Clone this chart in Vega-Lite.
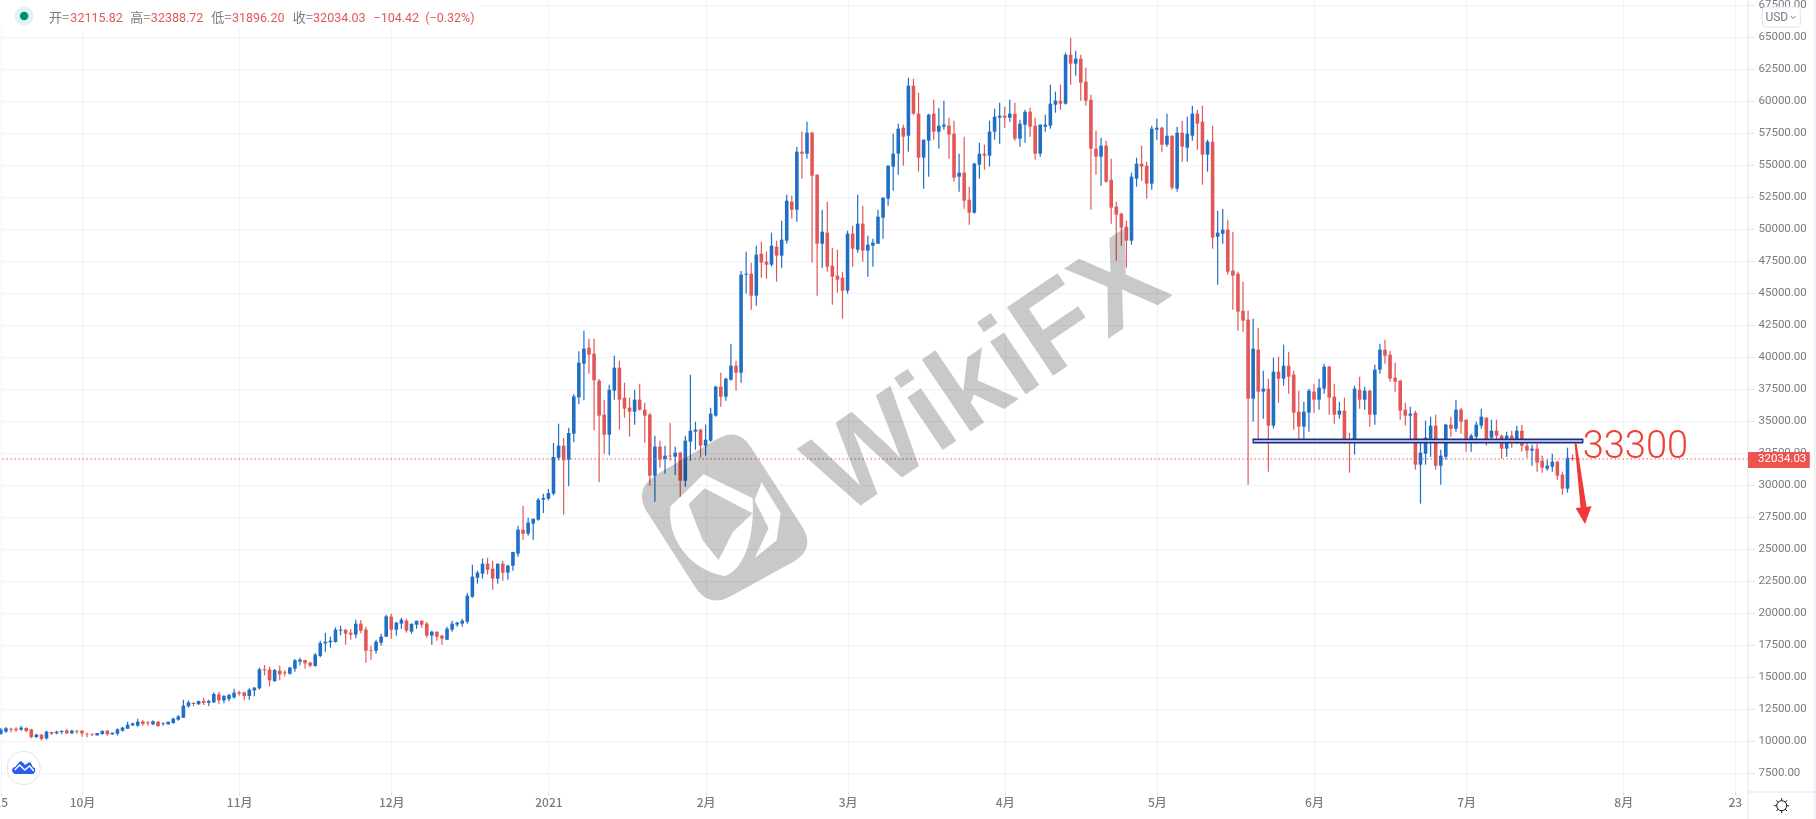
{"$schema":"https://vega.github.io/schema/vega-lite/v6.json","width":1748,"height":792,"autosize":{"type":"none"},"padding":{"left":0,"top":0,"right":68,"bottom":27},"background":"#ffffff","config":{"view":{"stroke":null}},
"datasets":{"ohlc":[
{"date":"2020-09-15","open":10573,"high":11016,"low":10495,"close":10885},
{"date":"2020-09-16","open":10729,"high":11094,"low":10651,"close":10990},
{"date":"2020-09-17","open":10963,"high":11042,"low":10677,"close":10885},
{"date":"2020-09-18","open":10963,"high":11068,"low":10729,"close":10833},
{"date":"2020-09-19","open":10885,"high":11198,"low":10807,"close":11042},
{"date":"2020-09-20","open":11016,"high":11068,"low":10677,"close":10781},
{"date":"2020-09-21","open":10911,"high":10963,"low":10208,"close":10312},
{"date":"2020-09-22","open":10312,"high":10573,"low":10234,"close":10495},
{"date":"2020-09-23","open":10495,"high":10547,"low":10026,"close":10156},
{"date":"2020-09-24","open":10208,"high":10807,"low":10104,"close":10729},
{"date":"2020-09-25","open":10703,"high":10729,"low":10469,"close":10573},
{"date":"2020-09-26","open":10599,"high":10807,"low":10521,"close":10729},
{"date":"2020-09-27","open":10703,"high":10833,"low":10521,"close":10781},
{"date":"2020-09-28","open":10833,"high":10963,"low":10547,"close":10599},
{"date":"2020-09-29","open":10599,"high":10885,"low":10547,"close":10807},
{"date":"2020-09-30","open":10807,"high":10833,"low":10573,"close":10729},
{"date":"2020-10-01","open":10807,"high":10859,"low":10339,"close":10599},
{"date":"2020-10-02","open":10573,"high":10651,"low":10286,"close":10521},
{"date":"2020-10-03","open":10547,"high":10599,"low":10391,"close":10495},
{"date":"2020-10-04","open":10443,"high":10625,"low":10417,"close":10625},
{"date":"2020-10-05","open":10547,"high":10833,"low":10495,"close":10781},
{"date":"2020-10-06","open":10807,"high":10833,"low":10417,"close":10521},
{"date":"2020-10-07","open":10521,"high":10651,"low":10495,"close":10651},
{"date":"2020-10-08","open":10573,"high":10990,"low":10417,"close":10911},
{"date":"2020-10-09","open":10807,"high":11120,"low":10729,"close":11042},
{"date":"2020-10-10","open":10963,"high":11510,"low":10937,"close":11276},
{"date":"2020-10-11","open":11224,"high":11432,"low":11172,"close":11380},
{"date":"2020-10-12","open":11198,"high":11745,"low":11120,"close":11510},
{"date":"2020-10-13","open":11536,"high":11614,"low":11198,"close":11328},
{"date":"2020-10-14","open":11458,"high":11562,"low":11198,"close":11380},
{"date":"2020-10-15","open":11302,"high":11614,"low":11224,"close":11536},
{"date":"2020-10-16","open":11510,"high":11562,"low":11094,"close":11172},
{"date":"2020-10-17","open":11328,"high":11458,"low":11198,"close":11380},
{"date":"2020-10-18","open":11302,"high":11510,"low":11276,"close":11510},
{"date":"2020-10-19","open":11406,"high":11823,"low":11354,"close":11745},
{"date":"2020-10-20","open":11667,"high":12005,"low":11588,"close":11927},
{"date":"2020-10-21","open":11823,"high":13229,"low":11797,"close":12760},
{"date":"2020-10-22","open":12708,"high":13177,"low":12604,"close":13021},
{"date":"2020-10-23","open":12995,"high":12995,"low":12708,"close":12890},
{"date":"2020-10-24","open":12864,"high":13151,"low":12838,"close":13125},
{"date":"2020-10-25","open":13125,"high":13385,"low":12812,"close":12969},
{"date":"2020-10-26","open":12995,"high":13229,"low":12734,"close":13125},
{"date":"2020-10-27","open":13021,"high":13802,"low":12969,"close":13672},
{"date":"2020-10-28","open":13646,"high":13854,"low":12864,"close":13177},
{"date":"2020-10-29","open":13177,"high":13594,"low":12943,"close":13515},
{"date":"2020-10-30","open":13281,"high":13698,"low":13099,"close":13594},
{"date":"2020-10-31","open":13411,"high":14088,"low":13307,"close":13776},
{"date":"2020-11-01","open":13802,"high":13932,"low":13541,"close":13698},
{"date":"2020-11-02","open":13802,"high":13854,"low":13177,"close":13515},
{"date":"2020-11-03","open":13515,"high":14114,"low":13229,"close":14010},
{"date":"2020-11-04","open":13958,"high":14218,"low":13489,"close":14166},
{"date":"2020-11-05","open":14114,"high":15729,"low":14010,"close":15599},
{"date":"2020-11-06","open":15599,"high":15937,"low":15130,"close":15520},
{"date":"2020-11-07","open":15573,"high":15807,"low":14271,"close":14739},
{"date":"2020-11-08","open":14687,"high":15625,"low":14609,"close":15547},
{"date":"2020-11-09","open":15494,"high":15885,"low":14739,"close":15208},
{"date":"2020-11-10","open":15364,"high":15520,"low":15052,"close":15286},
{"date":"2020-11-11","open":15260,"high":15807,"low":15182,"close":15729},
{"date":"2020-11-12","open":15651,"high":16406,"low":15417,"close":16302},
{"date":"2020-11-13","open":16198,"high":16510,"low":15911,"close":16354},
{"date":"2020-11-14","open":16328,"high":16354,"low":15651,"close":16068},
{"date":"2020-11-15","open":16120,"high":16198,"low":15755,"close":15885},
{"date":"2020-11-16","open":15859,"high":16875,"low":15807,"close":16745},
{"date":"2020-11-17","open":16641,"high":17838,"low":16536,"close":17656},
{"date":"2020-11-18","open":17630,"high":18437,"low":16979,"close":17760},
{"date":"2020-11-19","open":17708,"high":18151,"low":17292,"close":17838},
{"date":"2020-11-20","open":17734,"high":18880,"low":17682,"close":18698},
{"date":"2020-11-21","open":18620,"high":19010,"low":18255,"close":18698},
{"date":"2020-11-22","open":18698,"high":18750,"low":17526,"close":18385},
{"date":"2020-11-23","open":18463,"high":18750,"low":17916,"close":18307},
{"date":"2020-11-24","open":18307,"high":19479,"low":18021,"close":19166},
{"date":"2020-11-25","open":19166,"high":19453,"low":18411,"close":18620},
{"date":"2020-11-26","open":18698,"high":18932,"low":16120,"close":17057},
{"date":"2020-11-27","open":17109,"high":17448,"low":16354,"close":17057},
{"date":"2020-11-28","open":17057,"high":17916,"low":16823,"close":17760},
{"date":"2020-11-29","open":17682,"high":18385,"low":17448,"close":18151},
{"date":"2020-11-30","open":18151,"high":19869,"low":18130,"close":19739},
{"date":"2020-12-01","open":19713,"high":19948,"low":17995,"close":18698},
{"date":"2020-12-02","open":18698,"high":19323,"low":18229,"close":19245},
{"date":"2020-12-03","open":19166,"high":19635,"low":18776,"close":19479},
{"date":"2020-12-04","open":19401,"high":19557,"low":18463,"close":18620},
{"date":"2020-12-05","open":18541,"high":19166,"low":18385,"close":19166},
{"date":"2020-12-06","open":19088,"high":19401,"low":18776,"close":19401},
{"date":"2020-12-07","open":19401,"high":19420,"low":18854,"close":19088},
{"date":"2020-12-08","open":19166,"high":19323,"low":18073,"close":18229},
{"date":"2020-12-09","open":18229,"high":18620,"low":17526,"close":18541},
{"date":"2020-12-10","open":18541,"high":18560,"low":17838,"close":18151},
{"date":"2020-12-11","open":18229,"high":18307,"low":17526,"close":17995},
{"date":"2020-12-12","open":17916,"high":18932,"low":17890,"close":18776},
{"date":"2020-12-13","open":18698,"high":19401,"low":18541,"close":19166},
{"date":"2020-12-14","open":19088,"high":19323,"low":18932,"close":19245},
{"date":"2020-12-15","open":19166,"high":19557,"low":18932,"close":19401},
{"date":"2020-12-16","open":19323,"high":21588,"low":19166,"close":21354},
{"date":"2020-12-17","open":21276,"high":23775,"low":21198,"close":22838},
{"date":"2020-12-18","open":22760,"high":23307,"low":22291,"close":23151},
{"date":"2020-12-19","open":23072,"high":24244,"low":22682,"close":23854},
{"date":"2020-12-20","open":23854,"high":24322,"low":22994,"close":23385},
{"date":"2020-12-21","open":23463,"high":24088,"low":21822,"close":22682},
{"date":"2020-12-22","open":22682,"high":23870,"low":22291,"close":23854},
{"date":"2020-12-23","open":23854,"high":24088,"low":22526,"close":23151},
{"date":"2020-12-24","open":23151,"high":23775,"low":22604,"close":23698},
{"date":"2020-12-25","open":23698,"high":24791,"low":23307,"close":24765},
{"date":"2020-12-26","open":24635,"high":26822,"low":24400,"close":26510},
{"date":"2020-12-27","open":26510,"high":28385,"low":25728,"close":26197},
{"date":"2020-12-28","open":26197,"high":27447,"low":26041,"close":27057},
{"date":"2020-12-29","open":26978,"high":27370,"low":25728,"close":27369},
{"date":"2020-12-30","open":27291,"high":28984,"low":27200,"close":28854},
{"date":"2020-12-31","open":28854,"high":29323,"low":27813,"close":28984},
{"date":"2021-01-01","open":28932,"high":29688,"low":28800,"close":29375},
{"date":"2021-01-02","open":29323,"high":33281,"low":29200,"close":32187},
{"date":"2021-01-03","open":32135,"high":34791,"low":31927,"close":33073},
{"date":"2021-01-04","open":33073,"high":33672,"low":27682,"close":31927},
{"date":"2021-01-05","open":31979,"high":34479,"low":29896,"close":34062},
{"date":"2021-01-06","open":34010,"high":37083,"low":33333,"close":36927},
{"date":"2021-01-07","open":36849,"high":40442,"low":36302,"close":39557},
{"date":"2021-01-08","open":39479,"high":42057,"low":36614,"close":40650},
{"date":"2021-01-09","open":40729,"high":41432,"low":38697,"close":40182},
{"date":"2021-01-10","open":40260,"high":41432,"low":34271,"close":38177},
{"date":"2021-01-11","open":38150,"high":38281,"low":30208,"close":35416},
{"date":"2021-01-12","open":35494,"high":36666,"low":32448,"close":33932},
{"date":"2021-01-13","open":33932,"high":37838,"low":32318,"close":37447},
{"date":"2021-01-14","open":37369,"high":40104,"low":36666,"close":39166},
{"date":"2021-01-15","open":39166,"high":39713,"low":34323,"close":36666},
{"date":"2021-01-16","open":36822,"high":37994,"low":35260,"close":35963},
{"date":"2021-01-17","open":36041,"high":36822,"low":33776,"close":35729},
{"date":"2021-01-18","open":35729,"high":37447,"low":34713,"close":36666},
{"date":"2021-01-19","open":36666,"high":37916,"low":35807,"close":35885},
{"date":"2021-01-20","open":35885,"high":36432,"low":33307,"close":35416},
{"date":"2021-01-21","open":35494,"high":35651,"low":29948,"close":30729},
{"date":"2021-01-22","open":30729,"high":33854,"low":28698,"close":32995},
{"date":"2021-01-23","open":32995,"high":33463,"low":31354,"close":31979},
{"date":"2021-01-24","open":32031,"high":33073,"low":30885,"close":32291},
{"date":"2021-01-25","open":32291,"high":34870,"low":31900,"close":32239},
{"date":"2021-01-26","open":32213,"high":32995,"low":30781,"close":32526},
{"date":"2021-01-27","open":32526,"high":32604,"low":29089,"close":30338},
{"date":"2021-01-28","open":30338,"high":33854,"low":29870,"close":33463},
{"date":"2021-01-29","open":33385,"high":38619,"low":31900,"close":34244},
{"date":"2021-01-30","open":34166,"high":34947,"low":32760,"close":34323},
{"date":"2021-01-31","open":34323,"high":34401,"low":32135,"close":33073},
{"date":"2021-02-01","open":33073,"high":34713,"low":32291,"close":33541},
{"date":"2021-02-02","open":33463,"high":36041,"low":33385,"close":35573},
{"date":"2021-02-03","open":35416,"high":37760,"low":35338,"close":37682},
{"date":"2021-02-04","open":37682,"high":38775,"low":36119,"close":36900},
{"date":"2021-02-05","open":36900,"high":38385,"low":36588,"close":38307},
{"date":"2021-02-06","open":38229,"high":41041,"low":38150,"close":39322},
{"date":"2021-02-07","open":39322,"high":39713,"low":37369,"close":38775},
{"date":"2021-02-08","open":38775,"high":46719,"low":37994,"close":46430},
{"date":"2021-02-09","open":46432,"high":48229,"low":44948,"close":46510},
{"date":"2021-02-10","open":46510,"high":47370,"low":43698,"close":44792},
{"date":"2021-02-11","open":44792,"high":48698,"low":44010,"close":47995},
{"date":"2021-02-12","open":48073,"high":49010,"low":46198,"close":47370},
{"date":"2021-02-13","open":47448,"high":48229,"low":46120,"close":47213},
{"date":"2021-02-14","open":47213,"high":49713,"low":47057,"close":48698},
{"date":"2021-02-15","open":48620,"high":49088,"low":45885,"close":47916},
{"date":"2021-02-16","open":47916,"high":50651,"low":46979,"close":49166},
{"date":"2021-02-17","open":49088,"high":52682,"low":48854,"close":52213},
{"date":"2021-02-18","open":52135,"high":52604,"low":50807,"close":51510},
{"date":"2021-02-19","open":51510,"high":56432,"low":50572,"close":56041},
{"date":"2021-02-20","open":56041,"high":57604,"low":53932,"close":55885},
{"date":"2021-02-21","open":55885,"high":58385,"low":55494,"close":57525},
{"date":"2021-02-22","open":57525,"high":57604,"low":47370,"close":54166},
{"date":"2021-02-23","open":54244,"high":54260,"low":44792,"close":48854},
{"date":"2021-02-24","open":48854,"high":51510,"low":46979,"close":49791},
{"date":"2021-02-25","open":49713,"high":52135,"low":46666,"close":47057},
{"date":"2021-02-26","open":47135,"high":48541,"low":44089,"close":46276},
{"date":"2021-02-27","open":46354,"high":48385,"low":45026,"close":46041},
{"date":"2021-02-28","open":46198,"high":46666,"low":42995,"close":45182},
{"date":"2021-03-01","open":45182,"high":49869,"low":44948,"close":49635},
{"date":"2021-03-02","open":49635,"high":50260,"low":47057,"close":48463},
{"date":"2021-03-03","open":48385,"high":52682,"low":48151,"close":50416},
{"date":"2021-03-04","open":50416,"high":51822,"low":47448,"close":48307},
{"date":"2021-03-05","open":48307,"high":49479,"low":46276,"close":48776},
{"date":"2021-03-06","open":48698,"high":49244,"low":47057,"close":48932},
{"date":"2021-03-07","open":48854,"high":51510,"low":48830,"close":50963},
{"date":"2021-03-08","open":50885,"high":52470,"low":49244,"close":52448},
{"date":"2021-03-09","open":52369,"high":54970,"low":51822,"close":54947},
{"date":"2021-03-10","open":54869,"high":57447,"low":52994,"close":55885},
{"date":"2021-03-11","open":55885,"high":58229,"low":54244,"close":57838},
{"date":"2021-03-12","open":57916,"high":58151,"low":54948,"close":57213},
{"date":"2021-03-13","open":57291,"high":61822,"low":56041,"close":61197},
{"date":"2021-03-14","open":61197,"high":61744,"low":58932,"close":59010},
{"date":"2021-03-15","open":59010,"high":60650,"low":54479,"close":55573},
{"date":"2021-03-16","open":55573,"high":57000,"low":53151,"close":56979},
{"date":"2021-03-17","open":56901,"high":59010,"low":54088,"close":58932},
{"date":"2021-03-18","open":59010,"high":60104,"low":56979,"close":57604},
{"date":"2021-03-19","open":57604,"high":59479,"low":56276,"close":58072},
{"date":"2021-03-20","open":57994,"high":60026,"low":57760,"close":58151},
{"date":"2021-03-21","open":58072,"high":58697,"low":55494,"close":57369},
{"date":"2021-03-22","open":57447,"high":58463,"low":53698,"close":54010},
{"date":"2021-03-23","open":54088,"high":55885,"low":52916,"close":54400},
{"date":"2021-03-24","open":54400,"high":57213,"low":51588,"close":52213},
{"date":"2021-03-25","open":52291,"high":53307,"low":50338,"close":51276},
{"date":"2021-03-26","open":51276,"high":55182,"low":51198,"close":55104},
{"date":"2021-03-27","open":55026,"high":56744,"low":53932,"close":55885},
{"date":"2021-03-28","open":55885,"high":56588,"low":54635,"close":55729},
{"date":"2021-03-29","open":55729,"high":58463,"low":54869,"close":57604},
{"date":"2021-03-30","open":57604,"high":59400,"low":56979,"close":58775},
{"date":"2021-03-31","open":58697,"high":59869,"low":56666,"close":58854},
{"date":"2021-04-01","open":58854,"high":59557,"low":57916,"close":58697},
{"date":"2021-04-02","open":58697,"high":60104,"low":58385,"close":59010},
{"date":"2021-04-03","open":59010,"high":59869,"low":56901,"close":57057},
{"date":"2021-04-04","open":57057,"high":58541,"low":56432,"close":58229},
{"date":"2021-04-05","open":58151,"high":59322,"low":56744,"close":59166},
{"date":"2021-04-06","open":59166,"high":59479,"low":57213,"close":57994},
{"date":"2021-04-07","open":58072,"high":58697,"low":55416,"close":55885},
{"date":"2021-04-08","open":55885,"high":58170,"low":55651,"close":58151},
{"date":"2021-04-09","open":57994,"high":58932,"low":57604,"close":58151},
{"date":"2021-04-10","open":58072,"high":61275,"low":57838,"close":59791},
{"date":"2021-04-11","open":59713,"high":60728,"low":59088,"close":60026},
{"date":"2021-04-12","open":60026,"high":61275,"low":59322,"close":59791},
{"date":"2021-04-13","open":59791,"high":63775,"low":59713,"close":63619},
{"date":"2021-04-14","open":63619,"high":64947,"low":61275,"close":62916},
{"date":"2021-04-15","open":62916,"high":63931,"low":61978,"close":63306},
{"date":"2021-04-16","open":63306,"high":63619,"low":60026,"close":61432},
{"date":"2021-04-17","open":61510,"high":62604,"low":59635,"close":60026},
{"date":"2021-04-18","open":60104,"high":60494,"low":51510,"close":56276},
{"date":"2021-04-19","open":56276,"high":57682,"low":54244,"close":55651},
{"date":"2021-04-20","open":55651,"high":57135,"low":53385,"close":56510},
{"date":"2021-04-21","open":56510,"high":56901,"low":53620,"close":53698},
{"date":"2021-04-22","open":53854,"high":55494,"low":50416,"close":51666},
{"date":"2021-04-23","open":51745,"high":52135,"low":47526,"close":51120},
{"date":"2021-04-24","open":51198,"high":51276,"low":48698,"close":50104},
{"date":"2021-04-25","open":50182,"high":50651,"low":46979,"close":49088},
{"date":"2021-04-26","open":49088,"high":54400,"low":48776,"close":54088},
{"date":"2021-04-27","open":53932,"high":55573,"low":53307,"close":55104},
{"date":"2021-04-28","open":55104,"high":56510,"low":53776,"close":54869},
{"date":"2021-04-29","open":54948,"high":55260,"low":52370,"close":53541},
{"date":"2021-04-30","open":53541,"high":58072,"low":53073,"close":57838},
{"date":"2021-05-01","open":57760,"high":58619,"low":56979,"close":57916},
{"date":"2021-05-02","open":57916,"high":57994,"low":56041,"close":56588},
{"date":"2021-05-03","open":56588,"high":59010,"low":56432,"close":57291},
{"date":"2021-05-04","open":57291,"high":57310,"low":53073,"close":53229},
{"date":"2021-05-05","open":53151,"high":57994,"low":52916,"close":57526},
{"date":"2021-05-06","open":57526,"high":58463,"low":55260,"close":56432},
{"date":"2021-05-07","open":56354,"high":58775,"low":55260,"close":57447},
{"date":"2021-05-08","open":57291,"high":59635,"low":56901,"close":59010},
{"date":"2021-05-09","open":59010,"high":59322,"low":56198,"close":58229},
{"date":"2021-05-10","open":58385,"high":59635,"low":53463,"close":55807},
{"date":"2021-05-11","open":55807,"high":56979,"low":54479,"close":56822},
{"date":"2021-05-12","open":56822,"high":58072,"low":48464,"close":49323},
{"date":"2021-05-13","open":49401,"high":51432,"low":45651,"close":49714},
{"date":"2021-05-14","open":49635,"high":51588,"low":48854,"close":49948},
{"date":"2021-05-15","open":49948,"high":50729,"low":46432,"close":46667},
{"date":"2021-05-16","open":46745,"high":49792,"low":43698,"close":46354},
{"date":"2021-05-17","open":46510,"high":46667,"low":42058,"close":43542},
{"date":"2021-05-18","open":43620,"high":45886,"low":41980,"close":42839},
{"date":"2021-05-19","open":42917,"high":43620,"low":30026,"close":36745},
{"date":"2021-05-20","open":36745,"high":42995,"low":34949,"close":40651},
{"date":"2021-05-21","open":40573,"high":42292,"low":33542,"close":37292},
{"date":"2021-05-22","open":37292,"high":38933,"low":35183,"close":37527},
{"date":"2021-05-23","open":37527,"high":38308,"low":31042,"close":34636},
{"date":"2021-05-24","open":34636,"high":39948,"low":34402,"close":38855},
{"date":"2021-05-25","open":38855,"high":40026,"low":36433,"close":38308},
{"date":"2021-05-26","open":38308,"high":40964,"low":37761,"close":39324},
{"date":"2021-05-27","open":39324,"high":40417,"low":37136,"close":38464},
{"date":"2021-05-28","open":38620,"high":38933,"low":34324,"close":35652},
{"date":"2021-05-29","open":35730,"high":37370,"low":33542,"close":34558},
{"date":"2021-05-30","open":34558,"high":36511,"low":33412,"close":35730},
{"date":"2021-05-31","open":35652,"high":37527,"low":34168,"close":37370},
{"date":"2021-06-01","open":37292,"high":37917,"low":35652,"close":36667},
{"date":"2021-06-02","open":36667,"high":38308,"low":35886,"close":37605},
{"date":"2021-06-03","open":37527,"high":39480,"low":37136,"close":39246},
{"date":"2021-06-04","open":39246,"high":39324,"low":35496,"close":36824},
{"date":"2021-06-05","open":36902,"high":37917,"low":34792,"close":35496},
{"date":"2021-06-06","open":35496,"high":36511,"low":35183,"close":35808},
{"date":"2021-06-07","open":35808,"high":36824,"low":33230,"close":33542},
{"date":"2021-06-08","open":33541,"high":34088,"low":30963,"close":33385},
{"date":"2021-06-09","open":33385,"high":37760,"low":32370,"close":37526},
{"date":"2021-06-10","open":37447,"high":38463,"low":35963,"close":36666},
{"date":"2021-06-11","open":36666,"high":37682,"low":35885,"close":37369},
{"date":"2021-06-12","open":37369,"high":37447,"low":34557,"close":35494},
{"date":"2021-06-13","open":35494,"high":39400,"low":34713,"close":39010},
{"date":"2021-06-14","open":39010,"high":41041,"low":38697,"close":40572},
{"date":"2021-06-15","open":40572,"high":41353,"low":39478,"close":40104},
{"date":"2021-06-16","open":40182,"high":40494,"low":38072,"close":38307},
{"date":"2021-06-17","open":38385,"high":39557,"low":37291,"close":38072},
{"date":"2021-06-18","open":38151,"high":38229,"low":35104,"close":35807},
{"date":"2021-06-19","open":35885,"high":36432,"low":34635,"close":35416},
{"date":"2021-06-20","open":35416,"high":36119,"low":33333,"close":35573},
{"date":"2021-06-21","open":35651,"high":35807,"low":31198,"close":31588},
{"date":"2021-06-22","open":31588,"high":33385,"low":28542,"close":32526},
{"date":"2021-06-23","open":32448,"high":35026,"low":31588,"close":33698},
{"date":"2021-06-24","open":33620,"high":35338,"low":32213,"close":34635},
{"date":"2021-06-25","open":34635,"high":35494,"low":31198,"close":31510},
{"date":"2021-06-26","open":31510,"high":32760,"low":30026,"close":32292},
{"date":"2021-06-27","open":32213,"high":34791,"low":31979,"close":34713},
{"date":"2021-06-28","open":34713,"high":35338,"low":33776,"close":34401},
{"date":"2021-06-29","open":34401,"high":36666,"low":34166,"close":35885},
{"date":"2021-06-30","open":35885,"high":36041,"low":34010,"close":34948},
{"date":"2021-07-01","open":35104,"high":35120,"low":32604,"close":33385},
{"date":"2021-07-02","open":33463,"high":34010,"low":32604,"close":33854},
{"date":"2021-07-03","open":33776,"high":34948,"low":33229,"close":34713},
{"date":"2021-07-04","open":34635,"high":35963,"low":34401,"close":35338},
{"date":"2021-07-05","open":35260,"high":35280,"low":33073,"close":33541},
{"date":"2021-07-06","open":33698,"high":35104,"low":33463,"close":34244},
{"date":"2021-07-07","open":34244,"high":35104,"low":33541,"close":33854},
{"date":"2021-07-08","open":33854,"high":33932,"low":32057,"close":32838},
{"date":"2021-07-09","open":32838,"high":34166,"low":32213,"close":33854},
{"date":"2021-07-10","open":33854,"high":34244,"low":32916,"close":33385},
{"date":"2021-07-11","open":33385,"high":34635,"low":33229,"close":34244},
{"date":"2021-07-12","open":34244,"high":34713,"low":32604,"close":33073},
{"date":"2021-07-13","open":33073,"high":33385,"low":32135,"close":32682},
{"date":"2021-07-14","open":32682,"high":33151,"low":31510,"close":32838},
{"date":"2021-07-15","open":32838,"high":33229,"low":31042,"close":31745},
{"date":"2021-07-16","open":31901,"high":32292,"low":30963,"close":31354},
{"date":"2021-07-17","open":31276,"high":31979,"low":31120,"close":31510},
{"date":"2021-07-18","open":31432,"high":32448,"low":31042,"close":31823},
{"date":"2021-07-19","open":31823,"high":31901,"low":30417,"close":30729},
{"date":"2021-07-20","open":30807,"high":31042,"low":29245,"close":29714},
{"date":"2021-07-21","open":29714,"high":32916,"low":29401,"close":32135},
{"date":"2021-07-22","open":32115.82,"high":32388.72,"low":31896.2,"close":32034.03}
]},
"layer":[
{"data":{"name":"ohlc"},"mark":{"type":"rule","strokeWidth":1.2},"encoding":{
"x":{"field":"date","type":"temporal","title":null,"scale":{"type":"utc","domain":[1600113312000,1629901440000],"nice":false,"padding":0},"axis":{"orient":"bottom","title":null,"tickCount":30,"values":[1600128000000,1601510400000,1604188800000,1606780800000,1609459200000,1612137600000,1614556800000,1617235200000,1619827200000,1622505600000,1625097600000,1627776000000,1629676800000],"labelExpr":"utcdate(datum.value)==23?'23':utcdate(datum.value)==15?'15':utcmonth(datum.value)==0?'2021':(utcmonth(datum.value)+1)+'月'","labelOverlap":false,"labelBound":false,"labelFlush":false,"labelAlign":"center","grid":true,"gridColor":"#f0f3f8","gridWidth":1,"domain":false,"tickSize":3,"tickColor":"#d6dae3","labelColor":"#787b86","labelFont":"Noto Sans CJK SC","labelFontSize":12,"labelFontWeight":500,"labelPadding":2}},
"y":{"field":"low","type":"quantitative","title":null,"scale":{"domain":[6015.6,67890.6],"nice":false,"zero":false,"padding":0},"axis":{"orient":"right","title":null,"tickCount":30,"values":[7500,10000,12500,15000,17500,20000,22500,25000,27500,30000,32500,35000,37500,40000,42500,45000,47500,50000,52500,55000,57500,60000,62500,65000,67500],"format":".2f","grid":true,"gridColor":"#f0f3f8","gridWidth":1,"domain":false,"tickSize":6,"tickColor":"#e0e3eb","labelColor":"#787b86","labelFont":"Roboto","labelFontSize":11.5,"labelPadding":4,"labelOverlap":false,"labelBound":false,"labelFlush":false}},
"y2":{"field":"high"},
"color":{"condition":{"test":"datum.close>=datum.open","value":"#1f6fc5"},"value":"#e25858"}}},
{"data":{"name":"ohlc"},"mark":{"type":"bar","size":3.6},"encoding":{
"x":{"field":"date","type":"temporal","title":null},
"y":{"field":"open","type":"quantitative","title":null},
"y2":{"field":"close"},
"color":{"condition":{"test":"datum.close>=datum.open","value":"#1f6fc5"},"value":"#e25858"}}},
{"data":{"values":[{"price":32034.03}]},"mark":{"type":"rule","color":"#e25858","strokeDash":[1.5,2.5],"strokeWidth":1},"encoding":{"y":{"field":"price","type":"quantitative","title":null}}},
{"data":{"values":[{"from":"2021-08-25T14:24:00Z","to":"2021-09-08T00:00:00Z","price":6015.6},{"from":"2021-08-25T14:24:00Z","to":"2021-08-25T14:24:00Z","price":67890,"price2":3800},{"from":"2021-09-07T19:00:00Z","to":"2021-09-07T19:00:00Z","price":67890,"price2":3800}]},"mark":{"type":"rule","color":"#e0e3eb","strokeWidth":1},"encoding":{"x":{"field":"from","type":"temporal","title":null},"x2":{"field":"to"},"y":{"field":"price","type":"quantitative","title":null},"y2":{"field":"price2"}}},
{"data":{"values":[{"from":"2020-09-14T20:00:00Z","to":"2020-12-18T12:00:00Z","bottom":65703,"top":67890}]},"mark":{"type":"rect","color":"#ffffff"},"encoding":{"x":{"field":"from","type":"temporal","title":null},"x2":{"field":"to"},"y":{"field":"bottom","type":"quantitative","title":null},"y2":{"field":"top"}}},
{"data":{"values":[{"date":"2020-09-19T14:00:00Z","price":66640}]},"mark":{"type":"point","shape":"circle","filled":true,"size":361,"color":"#e0f2f1","opacity":1},"encoding":{"x":{"field":"date","type":"temporal","title":null},"y":{"field":"price","type":"quantitative","title":null}}},
{"data":{"values":[{"date":"2020-09-19T14:00:00Z","price":66640}]},"mark":{"type":"point","shape":"circle","filled":true,"size":72,"color":"#00897b","opacity":1},"encoding":{"x":{"field":"date","type":"temporal","title":null},"y":{"field":"price","type":"quantitative","title":null}}},
{"data":{"values":[{"date":"2020-09-24T11:30:00Z","price":66523,"label":"开="},{"date":"2020-10-10T12:00:00Z","price":66523,"label":"高="},{"date":"2020-10-26T12:00:00Z","price":66523,"label":"低="},{"date":"2020-11-11T14:00:00Z","price":66523,"label":"收="}]},"mark":{"type":"text","align":"left","baseline":"middle","color":"#787b86","font":"Noto Sans CJK SC","fontSize":13},"encoding":{"x":{"field":"date","type":"temporal","title":null},"y":{"field":"price","type":"quantitative","title":null},"text":{"field":"label"}}},
{"data":{"values":[{"date":"2020-09-28T17:00:00Z","price":66523,"label":"32115.82"},{"date":"2020-10-14T14:00:00Z","price":66523,"label":"32388.72"},{"date":"2020-10-30T14:00:00Z","price":66523,"label":"31896.20"},{"date":"2020-11-15T14:00:00Z","price":66523,"label":"32034.03"},{"date":"2020-11-27T12:00:00Z","price":66523,"label":"−104.42"},{"date":"2020-12-07T17:00:00Z","price":66523,"label":"(−0.32%)"}]},"mark":{"type":"text","align":"left","baseline":"middle","color":"#e25858","font":"Roboto","fontSize":12.5},"encoding":{"x":{"field":"date","type":"temporal","title":null},"y":{"field":"price","type":"quantitative","title":null},"text":{"field":"label"}}},
{"data":{"values":[{"date":"2020-09-19T12:00:00Z","price":7891}]},"mark":{"type":"point","shape":"circle","filled":true,"size":1089,"fill":"#ffffff","stroke":"#e0e3eb","strokeWidth":1,"opacity":1},"encoding":{"x":{"field":"date","type":"temporal","title":null},"y":{"field":"price","type":"quantitative","title":null}}},
{"data":{"values":[{"date":"2020-09-19T12:00:00Z","price":7891}]},"mark":{"type":"point","shape":"M-11.5 3C-12 1 -10.5 -1 -8.5 -1L-4.5 -6C-3.5 -7 -2.5 -7 -1.5 -6L1.5 -3L5 -5.5C6 -6 7 -5.5 7.5 -4.5L9 -1C11 -.5 12 1 11.5 3C11 5.5 9.5 6 8 6L-8 6C-10 6 -11 5 -11.5 3Z","filled":true,"size":4,"color":"#2b5cf0","opacity":1},"encoding":{"x":{"field":"date","type":"temporal","title":null},"y":{"field":"price","type":"quantitative","title":null}}},
{"data":{"values":[{"date":"2020-09-19T12:00:00Z","price":7891}]},"mark":{"type":"point","shape":"M-9 2L-4 -3L1 2L6 -2L10 3","filled":false,"size":4,"stroke":"#ffffff","strokeWidth":1.4,"opacity":1},"encoding":{"x":{"field":"date","type":"temporal","title":null},"y":{"field":"price","type":"quantitative","title":null}}},
{"data":{"values":[{"from":"2021-05-20","to":"2021-07-24","bottom":33305,"top":33570}]},"mark":{"type":"rect","fill":"#a9b3e0","stroke":"#1d2f80","strokeWidth":1.4},"encoding":{"x":{"field":"from","type":"temporal","title":null},"x2":{"field":"to"},"y":{"field":"bottom","type":"quantitative","title":null},"y2":{"field":"top"}}},
{"data":{"values":[{"date":"2021-07-22T14:00:00Z","price":33281}]},"mark":{"type":"point","shape":"M-1 0L1 0L11 64L16 63L9.5 81L0 65L5 64.5Z","filled":true,"size":4,"color":"#f03a3a","opacity":1},"encoding":{"x":{"field":"date","type":"temporal","title":null},"y":{"field":"price","type":"quantitative","title":null}}},
{"data":{"values":[{"from":"2021-08-25T14:24:00Z","to":"2021-09-06T19:00:00Z","bottom":31328,"top":32578}]},"mark":{"type":"rect","color":"#ef5350","cornerRadius":1},"encoding":{"x":{"field":"from","type":"temporal","title":null},"x2":{"field":"to"},"y":{"field":"bottom","type":"quantitative","title":null},"y2":{"field":"top"}}},
{"data":{"values":[{"date":"2021-08-27T14:00:00Z","price":32034,"label":"32034.03"}]},"mark":{"type":"text","align":"left","baseline":"middle","color":"#ffffff","font":"Roboto","fontSize":11.5},"encoding":{"x":{"field":"date","type":"temporal","title":null},"y":{"field":"price","type":"quantitative","title":null},"text":{"field":"label"}}},
{"data":{"values":[{"date":"2021-07-24","price":32109,"label":"33300"}]},"mark":{"type":"text","align":"left","baseline":"alphabetic","color":"#ee4035","font":"Roboto","fontWeight":300,"fontSize":38},"encoding":{"x":{"field":"date","type":"temporal","title":null},"y":{"field":"price","type":"quantitative","title":null},"text":{"field":"label"}}},
{"data":{"values":[{"from":"2021-08-28T10:00:00Z","to":"2021-09-04T22:00:00Z","bottom":65781,"top":67344}]},"mark":{"type":"rect","fill":"#ffffff","stroke":"#e0e3eb","strokeWidth":1,"cornerRadius":3},"encoding":{"x":{"field":"from","type":"temporal","title":null},"x2":{"field":"to"},"y":{"field":"bottom","type":"quantitative","title":null},"y2":{"field":"top"}}},
{"data":{"values":[{"date":"2021-08-31T07:00:00Z","price":66562,"label":"USD"}]},"mark":{"type":"text","align":"center","baseline":"middle","color":"#787b86","font":"Roboto","fontSize":12},"encoding":{"x":{"field":"date","type":"temporal","title":null},"y":{"field":"price","type":"quantitative","title":null},"text":{"field":"label"}}},
{"data":{"values":[{"date":"2021-09-03T12:00:00Z","price":66562}]},"mark":{"type":"point","shape":"M-2.5 -1L0 1.5L2.5 -1","filled":false,"size":4,"stroke":"#787b86","strokeWidth":1,"opacity":1},"encoding":{"x":{"field":"date","type":"temporal","title":null},"y":{"field":"price","type":"quantitative","title":null}}},
{"data":{"values":[{"date":"2021-09-01T06:00:00Z","price":4945}]},"mark":{"type":"point","shape":"M5 0A5 5 0 1 1 -5 0A5 5 0 1 1 5 0ZM0 -5L0 -7.5M0 5L0 7.5M-5 0L-7.5 0M5 0L7.5 0M3.5 -3.5L5.3 -5.3M-3.5 -3.5L-5.3 -5.3M3.5 3.5L5.3 5.3M-3.5 3.5L-5.3 5.3","filled":false,"size":4,"stroke":"#131722","strokeWidth":1,"opacity":1},"encoding":{"x":{"field":"date","type":"temporal","title":null},"y":{"field":"price","type":"quantitative","title":null}}},
{"data":{"values":[{"date":"2021-02-04T18:00:00Z","price":27400}]},"mark":{"type":"point","shape":"M27 -70L78 9Q91 31 68 44L6 78Q-16 90 -30 68L-78 -7Q-91 -29 -69 -43L-8 -79Q14 -92 27 -70ZM-21 -44L-54 -12C-58 15 -40 50 0 58C20 50 30 20 28 -20ZM-36 -14L-20 -30L28 -5L8 14L-6 42L-22 22ZM37 -36L30 -18L44 10L30 40L52 22L56 -5Z","filled":true,"size":4,"color":"#c9c9c9","opacity":1,"blend":"multiply"},"encoding":{"x":{"field":"date","type":"temporal","title":null},"y":{"field":"price","type":"quantitative","title":null}}},
{"data":{"values":[{"date":"2021-03-28T17:00:00Z","price":38500,"label":"WikiFX"}]},"mark":{"type":"text","align":"center","baseline":"middle","angle":-34,"color":"#c9c9c9","font":"Liberation Sans","fontWeight":"bold","fontSize":120,"blend":"multiply"},"encoding":{"x":{"field":"date","type":"temporal","title":null},"y":{"field":"price","type":"quantitative","title":null},"text":{"field":"label"}}}
]}
